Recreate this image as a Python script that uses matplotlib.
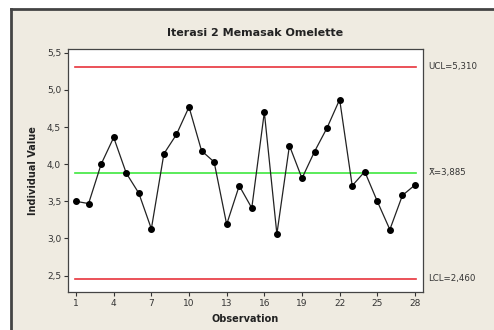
import matplotlib
matplotlib.use("Agg")
import matplotlib.pyplot as plt
from matplotlib.lines import Line2D
import numpy as np

obs = np.arange(1, 29)
values = [3.50, 3.47, 4.00, 4.36, 3.88, 3.61, 3.13, 4.14, 4.40, 4.77,
          4.18, 4.03, 3.19, 3.71, 3.41, 4.70, 3.06, 4.25, 3.81, 4.17,
          4.49, 4.87, 3.71, 3.90, 3.50, 3.12, 3.58, 3.72]
ucl = 5.310
center = 3.885
lcl = 2.460

xticks = [1, 4, 7, 10, 13, 16, 19, 22, 25, 28]
yticks = [2.5, 3.0, 3.5, 4.0, 4.5, 5.0, 5.5]
ytick_labels = ["2,5", "3,0", "3,5", "4,0", "4,5", "5,0", "5,5"]

bg = "#efebe1"

fig = plt.figure(figsize=(4.94, 3.30), dpi=100, facecolor=bg)
ax = fig.add_axes([68 / 494, 1 - 292 / 330, (423 - 68) / 494, (292 - 49) / 330])
ax.set_facecolor("white")

ax.axhline(ucl, xmin=0.02, xmax=0.98, color="#e8343c", lw=1.2)
ax.axhline(lcl, xmin=0.02, xmax=0.98, color="#e8343c", lw=1.2)
ax.axhline(center, xmin=0.02, xmax=0.98, color="#3ee83e", lw=1.2)
ax.plot(obs, values, color="#222222", lw=0.9, marker="o", ms=4.0,
        mfc="black", mec="black")

ax.set_xlim(0.36, 28.64)
ax.set_ylim(2.28, 5.55)
ax.set_xticks(xticks)
ax.set_xticklabels([str(t) for t in xticks])
ax.set_yticks(yticks)
ax.set_yticklabels(ytick_labels)
ax.tick_params(direction="out", length=3, width=0.8, labelsize=6.5,
               colors="#333333", pad=2)
for s in ax.spines.values():
    s.set_color("#444444")
    s.set_linewidth(0.9)

ax.set_xlabel("Observation", fontsize=7, fontweight="bold", color="#222222", labelpad=4)
ax.set_ylabel("Individual Value", fontsize=7, fontweight="bold", color="#222222", labelpad=6)
fig.text(255 / 494, 1 - 33 / 330, "Iterasi 2 Memasak Omelette", ha="center",
         va="center", fontsize=8, fontweight="bold", color="#222222")

lbl = dict(transform=ax.get_yaxis_transform(), fontsize=6.2, color="#333333",
           va="center", ha="left")
ax.text(1.015, ucl, "UCL=5,310", **lbl)
ax.text(1.015, center, "X\u0304=3,885", **lbl)
ax.text(1.015, lcl, "LCL=2,460", **lbl)

# dark frame along the top and left edge of the image
fig.add_artist(Line2D([11 / 494, 1], [1 - 9 / 330, 1 - 9 / 330], color="#444444", lw=2))
fig.add_artist(Line2D([11 / 494, 11 / 494], [0, 1 - 9 / 330], color="#444444", lw=2))
fig.patches.append(plt.Rectangle((0, 0), 11 / 494, 1, transform=fig.transFigure,
                                 facecolor="white", edgecolor="none", zorder=-1))
fig.patches.append(plt.Rectangle((0, 1 - 9 / 330), 1, 9 / 330, transform=fig.transFigure,
                                 facecolor="white", edgecolor="none", zorder=-1))

fig.savefig("out.png", dpi=100, facecolor=bg)
